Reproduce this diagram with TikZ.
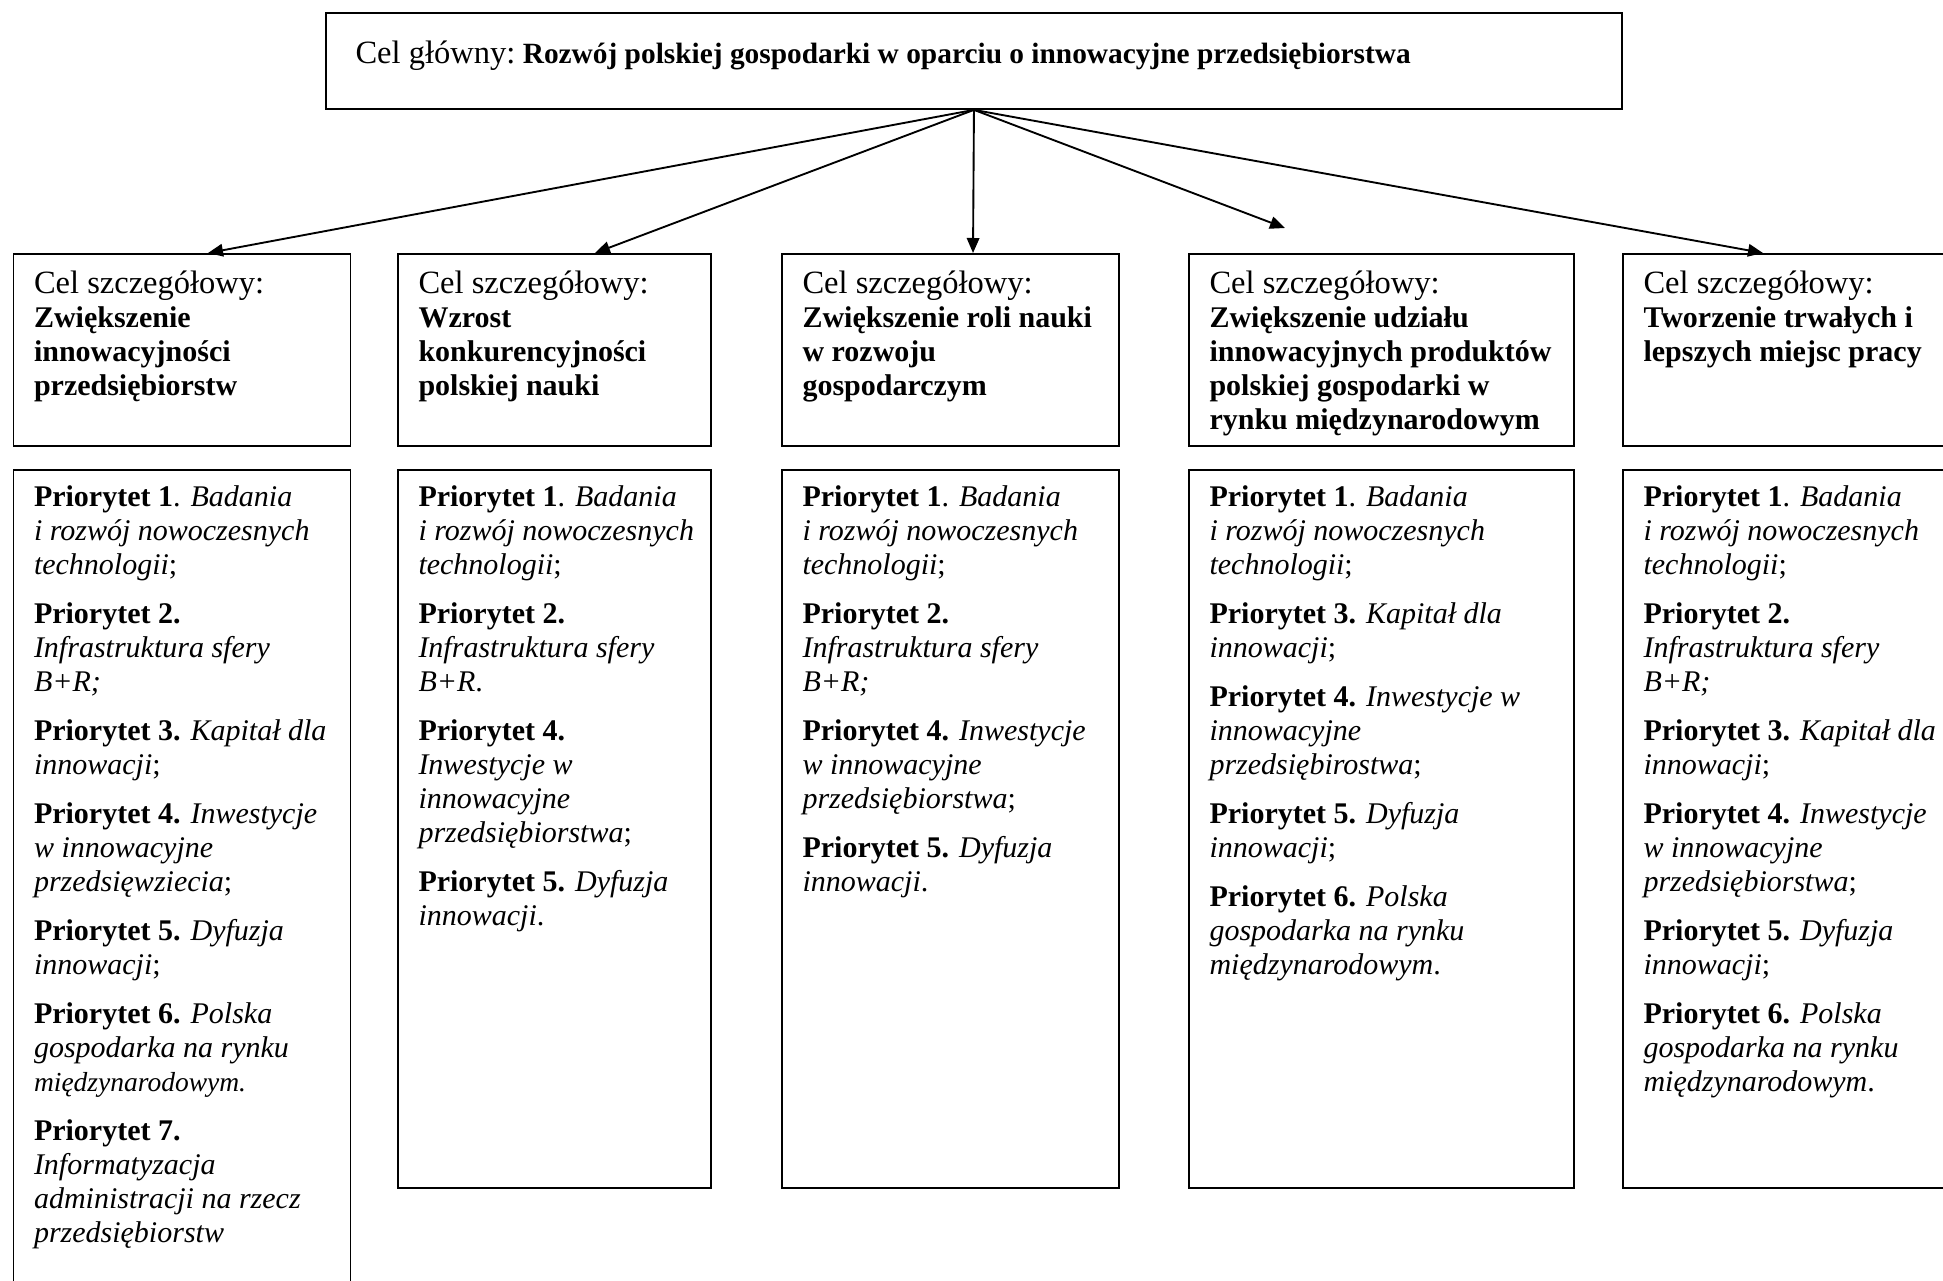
\documentclass[tikz,border=0pt]{standalone}
\usepackage{fontspec}
\setmainfont{Liberation Serif}
\usetikzlibrary{arrows.meta}
\newcommand\firststrut{\rule{0pt}{10pt}}
\newcommand\bigcel[1]{{\fontsize{13}{13.6}\selectfont #1}}
\tikzset{
  boxn/.style={draw, line width=0.75pt, inner sep=0pt, anchor=north west},
  txtn/.style={anchor=north west, inner sep=0pt, align=left, font=\fontsize{12}{13.6}\selectfont},
  arr/.style={line width=0.75pt, -{Triangle[length=6pt,width=5pt]}}
}
\begin{document}
\begin{tikzpicture}[x=0.4pt,y=-0.4pt]
\clip (0,0) rectangle (1943,1280);
\fill[white] (0,0) rectangle (1943,1280);
% main box
\node[boxn, minimum width=518.4pt, minimum height=38.4pt] (main) at (325,12) {};
\node[txtn] (maint) at (355,38) {\firststrut\bigcel{Cel główny:}\hspace{-1pt} {\fontsize{11.75}{13.6}\selectfont\textbf{Rozwój polskiej gospodarki w oparciu o innowacyjne przedsiębiorstwa}}};
% upper boxes
\node[boxn, minimum width=134.8pt, minimum height=76.8pt] (c1) at (12.5,253) {};
\node[boxn, minimum width=125.2pt, minimum height=76.8pt] (c2) at (397,253) {};
\node[boxn, minimum width=134.8pt, minimum height=76.8pt] (c3) at (781,253) {};
\node[boxn, minimum width=154pt, minimum height=76.8pt] (c4) at (1188,253) {};
\node[boxn, minimum width=139.2pt, minimum height=76.8pt] (c5) at (1622,253) {};
\node[txtn] (c1t) at (33.5,268) {\firststrut\bigcel{Cel szczegółowy:}\\\textbf{Zwiększenie}\\\textbf{innowacyjności}\\\textbf{przedsiębiorstw}};
\node[txtn] (c2t) at (418,268) {\firststrut\bigcel{Cel szczegółowy:}\\\textbf{Wzrost}\\\textbf{konkurencyjności}\\\textbf{polskiej nauki}};
\node[txtn] (c3t) at (802,268) {\firststrut\bigcel{Cel szczegółowy:}\\\textbf{Zwiększenie roli nauki}\\\textbf{w rozwoju}\\\textbf{gospodarczym}};
\node[txtn] (c4t) at (1209,268) {\firststrut\bigcel{Cel szczegółowy:}\\\textbf{Zwiększenie udziału}\\\textbf{innowacyjnych produktów}\\\textbf{polskiej gospodarki w}\\\textbf{rynku międzynarodowym}};
\node[txtn] (c5t) at (1643,268) {\firststrut\bigcel{Cel szczegółowy:}\\\textbf{Tworzenie trwałych i}\\\textbf{lepszych miejsc pracy}};
% lower boxes
\node[boxn, minimum width=134.8pt, minimum height=332.4pt] (p1) at (12.5,469) {};
\node[boxn, minimum width=125.2pt, minimum height=287.2pt] (p2) at (397,469) {};
\node[boxn, minimum width=134.8pt, minimum height=287.2pt] (p3) at (781,469) {};
\node[boxn, minimum width=154pt, minimum height=287.2pt] (p4) at (1188,469) {};
\node[boxn, minimum width=139.2pt, minimum height=287.2pt] (p5) at (1622,469) {};
\node[txtn] (p1t) at (33.5,481) {\firststrut\textbf{Priorytet 1}. \textit{Badania}\\
\textit{i rozwój nowoczesnych}\\
\textit{technologii};\\[6pt]
\textbf{Priorytet 2.}\\
\textit{Infrastruktura sfery}\\
\textit{B+R;}\\[6pt]
\textbf{Priorytet 3.} \textit{Kapitał dla}\\
\textit{innowacji};\\[6pt]
\textbf{Priorytet 4.} \textit{Inwestycje}\\
\textit{w innowacyjne}\\
\textit{przedsięwziecia};\\[6pt]
\textbf{Priorytet 5.} \textit{Dyfuzja}\\
\textit{innowacji};\\[6pt]
\textbf{Priorytet 6.} \textit{Polska}\\
\textit{gospodarka na rynku}\\
{\fontsize{11}{13.6}\selectfont\textit{międzynarodowym.}}\\[6pt]
\textbf{Priorytet 7.}\\
\textit{Informatyzacja}\\
\textit{administracji na rzecz}\\
\textit{przedsiębiorstw}};
\node[txtn] (p2t) at (418,481) {\firststrut\textbf{Priorytet 1}. \textit{Badania}\\
\textit{i rozwój nowoczesnych}\\
\textit{technologii};\\[6pt]
\textbf{Priorytet 2.}\\
\textit{Infrastruktura sfery}\\
\textit{B+R}.\\[6pt]
\textbf{Priorytet 4.}\\
\textit{Inwestycje w}\\
\textit{innowacyjne}\\
\textit{przedsiębiorstwa};\\[6pt]
\textbf{Priorytet 5.} \textit{Dyfuzja}\\
\textit{innowacji}.};
\node[txtn] (p3t) at (802,481) {\firststrut\textbf{Priorytet 1}. \textit{Badania}\\
\textit{i rozwój nowoczesnych}\\
\textit{technologii};\\[6pt]
\textbf{Priorytet 2.}\\
\textit{Infrastruktura sfery}\\
\textit{B+R;}\\[6pt]
\textbf{Priorytet 4.} \textit{Inwestycje}\\
\textit{w innowacyjne}\\
\textit{przedsiębiorstwa};\\[6pt]
\textbf{Priorytet 5.} \textit{Dyfuzja}\\
\textit{innowacji}.};
\node[txtn] (p4t) at (1209,481) {\firststrut\textbf{Priorytet 1}. \textit{Badania}\\
\textit{i rozwój nowoczesnych}\\
\textit{technologii};\\[6pt]
\textbf{Priorytet 3.} \textit{Kapitał dla}\\
\textit{innowacji};\\[6pt]
\textbf{Priorytet 4.} \textit{Inwestycje w}\\
\textit{innowacyjne}\\
\textit{przedsiębirostwa};\\[6pt]
\textbf{Priorytet 5.} \textit{Dyfuzja}\\
\textit{innowacji};\\[6pt]
\textbf{Priorytet 6.} \textit{Polska}\\
\textit{gospodarka na rynku}\\
\textit{międzynarodowym}.};
\node[txtn] (p5t) at (1643,481) {\firststrut\textbf{Priorytet 1}. \textit{Badania}\\
\textit{i rozwój nowoczesnych}\\
\textit{technologii};\\[6pt]
\textbf{Priorytet 2.}\\
\textit{Infrastruktura sfery}\\
\textit{B+R;}\\[6pt]
\textbf{Priorytet 3.} \textit{Kapitał dla}\\
\textit{innowacji};\\[6pt]
\textbf{Priorytet 4.} \textit{Inwestycje}\\
\textit{w innowacyjne}\\
\textit{przedsiębiorstwa};\\[6pt]
\textbf{Priorytet 5.} \textit{Dyfuzja}\\
\textit{innowacji};\\[6pt]
\textbf{Priorytet 6.} \textit{Polska}\\
\textit{gospodarka na rynku}\\
\textit{międzynarodowym}.};
% arrow targets
\path (c1.north west) ++(195.5,0) coordinate (t1);
\path (c2.north west) ++(198,0) coordinate (t2);
\path (c3.north west) ++(192,0) coordinate (t3);
\coordinate (t4) at (1285,228);
\path (c5.north west) ++(141,0) coordinate (t5);
\foreach \t in {t1,t2,t3,t4,t5} \draw[arr] (main.south) -- (\t);
\end{tikzpicture}
\end{document}
